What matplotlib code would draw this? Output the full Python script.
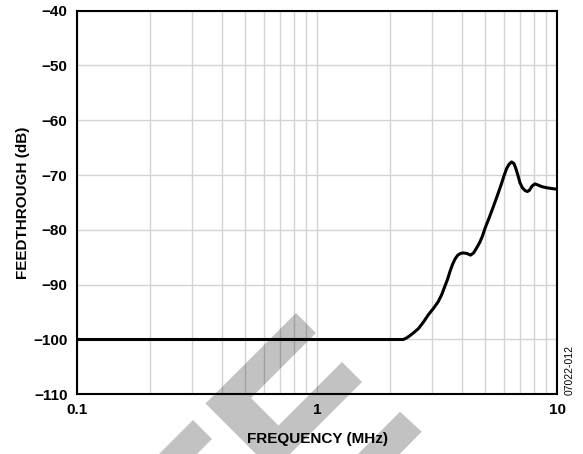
import matplotlib
matplotlib.use("Agg")
import matplotlib.pyplot as plt
from matplotlib.patches import Polygon

# Data
freq_mhz = [0.1, 2.28, 2.36, 2.43, 2.53, 2.64, 2.77, 2.90, 3.05, 3.19, 3.30, 3.40,
            3.49, 3.57, 3.66, 3.75, 3.85, 3.95, 4.05, 4.20, 4.35, 4.48, 4.61,
            4.75, 4.87, 5.00, 5.20, 5.41, 5.63, 5.86, 6.00, 6.15, 6.30, 6.45,
            6.60, 6.73, 6.87, 6.99, 7.15, 7.33, 7.50, 7.64, 7.85, 8.07, 8.30,
            8.61, 9.00, 9.33, 10.0]
feedthrough_db = [-100, -100, -99.7, -99.3, -98.7, -98.0, -96.8, -95.5, -94.3, -93.1,
                  -91.8, -90.3, -89.0, -87.6, -86.3, -85.3, -84.6, -84.3, -84.2,
                  -84.3, -84.6, -84.2, -83.3, -82.3, -81.2, -79.7, -77.8, -75.8,
                  -73.7, -71.5, -70.1, -68.8, -68.0, -67.6, -67.9, -68.9, -70.2,
                  -71.4, -72.3, -72.8, -73.0, -72.8, -72.0, -71.6, -71.8, -72.1,
                  -72.3, -72.4, -72.6]
y_ticks = [-110, -100, -90, -80, -70, -60, -50, -40]
x_ticks = [0.1, 1, 10]
x_tick_labels = ["0.1", "1", "10"]

plt.rcParams['font.family'] = ['Liberation Sans', 'DejaVu Sans']

W, H = 583, 454
fig = plt.figure(figsize=(W / 100, H / 100), dpi=100)
ax = fig.add_axes([77.3 / W, 1 - 394.3 / H, (557.3 - 77.3) / W, (394.3 - 10.7) / H])

ax.set_xscale('log')
ax.set_xlim(0.1, 10)
ax.set_ylim(-110, -40)
ax.set_yticks(y_ticks)
ax.set_yticklabels([f"\u2212{abs(v)}" for v in y_ticks])
ax.set_xticks(x_ticks)
ax.set_xticklabels(x_tick_labels)
ax.minorticks_on()
ax.tick_params(which='both', length=0)
ax.tick_params(axis='y', pad=7, labelsize=11)
ax.tick_params(axis='x', pad=6, labelsize=11)
for lab in ax.get_xticklabels() + ax.get_yticklabels():
    lab.set_fontweight('bold')
ax.yaxis.set_minor_locator(matplotlib.ticker.NullLocator())
ax.xaxis.set_minor_formatter(matplotlib.ticker.NullFormatter())

ax.grid(True, which='both', axis='x', color='#d3d3d3', lw=1.0)
ax.grid(True, which='major', axis='y', color='#d3d3d3', lw=1.0)
ax.set_axisbelow(True)
for s in ax.spines.values():
    s.set_linewidth(1.5)
    s.set_color('black')

ax.plot(freq_mhz, feedthrough_db, color='black', lw=2.2, solid_joinstyle='round',
        solid_capstyle='butt', zorder=5)

ax.set_xlabel("FREQUENCY (MHz)", fontsize=11, fontweight='bold', labelpad=11)
ax.set_ylabel("FEEDTHROUGH (dB)", fontsize=11, fontweight='bold', labelpad=2)

fig.text(570 / W, 1 - 395 / H, "07022-012", rotation=90, fontsize=7.5,
         ha='center', va='bottom')

# Watermark shapes (figure pixel coordinates, origin top-left)
def px(pts):
    return [(x / W, 1 - y / H) for x, y in pts]

shapes = [
    [(296, 313), (316, 333), (251, 398), (278.5, 425.5), (342, 362), (362, 382),
     (273, 471), (205.5, 403.5)],
    [(193, 420), (212, 439), (170, 481), (151, 462)],
    [(400, 411.7), (421.7, 431.7), (380, 474), (358, 454)],
]
for s in shapes:
    fig.patches.append(Polygon(px(s), closed=True, transform=fig.transFigure,
                               facecolor='black', alpha=0.24, edgecolor='none',
                               zorder=10))

fig.savefig("out.png", dpi=100)
